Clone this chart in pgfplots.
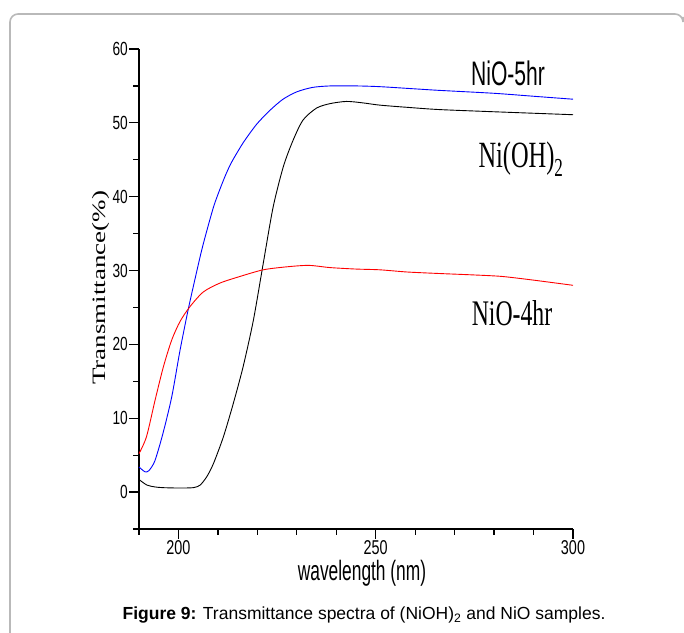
\documentclass[border=0pt]{standalone}
\usepackage{fontspec}
\usepackage{graphicx}
\usepackage{pgfplots}
\pgfplotsset{compat=1.18}
\setmainfont{Liberation Sans}
\newfontfamily\sqsans{Liberation Sans}[FakeStretch=0.72]
\newfontfamily\sqlabel{Liberation Sans}[FakeStretch=0.62]
\newfontfamily\sqserif{Liberation Serif}[FakeStretch=0.66]
\newfontfamily\timesfont{Liberation Serif}

% values
\pgfplotstableread{
x      y
190    3.4
191.5  2.75
192.5  2.9
194    4.2
196    7.8
198.3  12.9
200.4  19.2
202.5  24.8
204.6  29.8
206    33.0
207.5  36.0
209    38.8
210.5  41.0
212    43.0
213.5  44.7
216.4  47.3
219.8  49.8
223.2  51.7
226.5  53.2
230    54.2
234    54.8
238.5  55.0
245    55.0
251    54.9
260    54.6
266    54.4
280    54.0
290    53.6
300    53.2
}\nioFive
\pgfplotstableread{
x      y
190    1.7
192    0.95
194    0.7
196    0.6
200    0.55
203.8  0.6
205.5  0.95
207.2  2.1
208.9  3.9
211.4  7.5
213.9  12
216.4  17
219    23.3
221.5  31.0
224    38.6
226.6  44.1
229.1  47.7
231.6  50.4
235    52.0
238.4  52.6
242.6  52.9
246.8  52.7
251    52.4
258    52.1
266    51.8
280    51.5
290    51.3
300    51.1
}\nioh
\pgfplotstableread{
x      y
190    5.2
191.9  7.5
194.1  12.5
196.2  17
198.3  20.6
200.4  23.1
202.9  25.1
206.3  27.1
210.5  28.3
215.6  29.2
221.5  30.1
227.4  30.5
233    30.7
238.4  30.4
245    30.2
251    30.1
258    29.8
266    29.6
275    29.4
282    29.2
290    28.7
300    28.0
}\nioFour

\begin{document}
\begin{tikzpicture}
\path[use as bounding box] (0,0) rectangle (684bp,633bp);
% page frame
\draw[gray!55, line width=1.6bp, rounded corners=8bp]
  (10bp,-2bp) -- (10bp,619bp) -- (683bp,619bp) -- (683bp,616bp);

\begin{axis}[
  at={(139bp,104bp)}, anchor=south west,
  scale only axis, width=434bp, height=480bp,
  xmin=190, xmax=300, ymin=-5, ymax=60,
  axis lines*=left,
  axis line style={line width=1.3bp},
  xtick={200,250,300},
  minor xtick={190,210,220,230,240,260,270,280,290},
  ytick={0,10,...,60},
  minor ytick={-5,5,...,55},
  tick align=outside,
  major tick length=10bp, minor tick length=6bp,
  tick style={black, line width=1.3bp},
  /pgf/number format/assume math mode=true,
  xticklabel style={font=\sqsans\fontsize{20bp}{20bp}\selectfont, inner ysep=1.5bp},
  yticklabel style={font=\sqsans\fontsize{19bp}{19bp}\selectfont, inner xsep=1bp},
  clip=false,
]
\addplot[blue, line width=0.9bp, smooth, tension=0.45] table {\nioFive};
\addplot[black, line width=0.9bp, smooth, tension=0.45] table {\nioh};
\addplot[red, line width=0.9bp, smooth, tension=0.45] table {\nioFour};
\end{axis}

% axis titles
\node at (362bp,60bp) {\sqlabel\fontsize{28bp}{28bp}\selectfont wavelength (nm)};
\node[rotate=90] at (101bp,345bp)
  {\scalebox{1}[0.7]{\timesfont\fontsize{27bp}{27bp}\selectfont Transmittance(\%)}};

% curve labels
\node at (508bp,560bp) {\sqlabel\fontsize{34bp}{34bp}\selectfont NiO-5hr};
\node at (521bp,474bp) {\sqserif\fontsize{37bp}{37bp}\selectfont Ni(OH)\textsubscript{2}};
\node at (512bp,320bp) {\sqserif\fontsize{36bp}{36bp}\selectfont NiO-4hr};

% caption
\node at (364bp,18bp) {\fontsize{17.5bp}{20bp}\selectfont
  \textbf{Figure 9:} Transmittance spectra of (NiOH)\textsubscript{2} and NiO samples.};
\end{tikzpicture}
\end{document}
